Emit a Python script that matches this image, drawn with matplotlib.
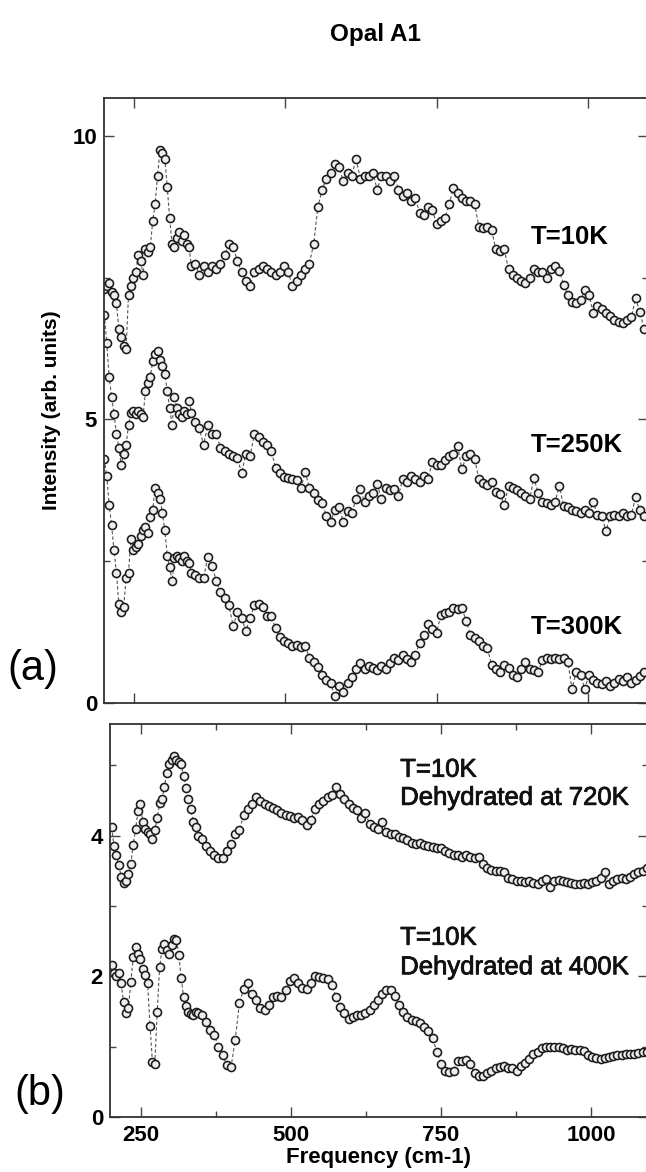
import matplotlib
matplotlib.use("Agg")
import matplotlib.pyplot as plt
import matplotlib.patheffects as pe
import numpy as np

plt.rcParams["font.family"] = ["Liberation Sans", "DejaVu Sans"]

# frequency grid (cm-1): finer steps below 350
freq = np.concatenate([np.arange(201, 349, 4), np.arange(351, 1096, 7)])

# panel (a)
t10k = [
    7.3, 7.35, 7.4, 7.25, 7.2, 7.05, 6.6, 6.45, 6.3, 6.25,
    7.2, 7.35, 7.5, 7.6, 7.9, 7.8, 7.55, 8.0, 7.95, 8.05,
    8.5, 8.8, 9.3, 9.75, 9.7, 9.6, 9.1, 8.55, 8.1, 8.05,
    8.2, 8.3, 8.15, 8.25, 8.1, 8.05, 7.7,
    7.75, 7.55, 7.7, 7.6, 7.7, 7.65, 7.75, 7.9, 8.1, 8.05,
    7.8, 7.6, 7.45, 7.35, 7.6, 7.65, 7.7, 7.65, 7.6, 7.55,
    7.6, 7.7, 7.6, 7.35, 7.45, 7.55, 7.65, 7.75, 8.1, 8.75,
    9.05, 9.25, 9.35, 9.5, 9.45, 9.2, 9.35, 9.3, 9.6, 9.25,
    9.3, 9.3, 9.35, 9.05, 9.3, 9.3, 9.2, 9.3, 9.05, 8.95,
    9.0, 8.85, 8.9, 8.65, 8.6, 8.75, 8.7, 8.45, 8.5, 8.55,
    8.8, 9.08, 9.0, 8.9, 8.85, 8.85, 8.8, 8.4, 8.38, 8.4,
    8.35, 8.0, 7.98, 8.0, 7.65, 7.55, 7.5, 7.45, 7.4, 7.5,
    7.65, 7.6, 7.6, 7.5, 7.65, 7.7, 7.62, 7.38, 7.2, 7.07,
    7.05, 7.1, 7.28, 7.2, 6.88, 7.0, 6.95, 6.88, 6.82, 6.75,
    6.72, 6.7, 6.75, 6.8, 7.14, 6.9, 6.6,
]
t250k = [
    6.85, 6.35, 5.75, 5.4, 5.1, 4.75, 4.5, 4.2, 4.4, 4.55,
    4.9, 5.12, 5.15, 5.1, 5.15, 5.1, 5.05, 5.5, 5.65, 5.75,
    6.03, 6.15, 6.2, 6.05, 5.95, 5.8, 5.5, 5.2, 4.9, 5.4,
    5.2, 5.1, 5.05, 5.15, 5.1, 5.33, 5.12,
    4.95, 4.85, 4.55, 4.9, 4.75, 4.75, 4.5, 4.45, 4.4, 4.35,
    4.32, 4.05, 4.4, 4.35, 4.75, 4.7, 4.6, 4.55, 4.45, 4.15,
    4.05, 3.99, 3.97, 3.95, 3.93, 3.79, 4.07, 3.8, 3.7, 3.58,
    3.53, 3.3, 3.2, 3.4, 3.45, 3.2, 3.38, 3.35, 3.6, 3.78,
    3.55, 3.65, 3.7, 3.86, 3.6, 3.8, 3.75, 3.78, 3.65, 3.95,
    3.9, 4.0, 3.95, 3.9, 4.0, 3.95, 4.25, 4.2, 4.2, 4.28,
    4.35, 4.4, 4.53, 4.12, 4.35, 4.4, 4.3, 3.95, 3.88, 3.85,
    3.9, 3.72, 3.68, 3.49, 3.83, 3.8, 3.75, 3.7, 3.65, 3.6,
    3.97, 3.7, 3.55, 3.52, 3.5, 3.55, 3.83, 3.48, 3.45, 3.4,
    3.38, 3.35, 3.4, 3.35, 3.55, 3.32, 3.3, 3.03, 3.3, 3.32,
    3.3, 3.35, 3.3, 3.32, 3.63, 3.4, 3.3,
]
t300k = [
    4.3, 4.0, 3.5, 3.14, 2.7, 2.3, 1.75, 1.6, 1.7, 2.2,
    2.3, 2.9, 2.7, 2.75, 2.8, 2.95, 3.05, 3.1, 3.0, 3.28,
    3.4, 3.8, 3.7, 3.6, 3.35, 3.05, 2.6, 2.4, 2.15, 2.55,
    2.6, 2.55, 2.5, 2.6, 2.5, 2.47, 2.3,
    2.25, 2.2, 2.2, 2.58, 2.42, 2.15, 1.95, 1.85, 1.72, 1.36,
    1.6, 1.5, 1.27, 1.5, 1.73, 1.75, 1.7, 1.53, 1.53, 1.32,
    1.16, 1.1, 1.05, 1.0, 1.02, 0.99, 1.0, 0.8, 0.72, 0.64,
    0.5, 0.4, 0.35, 0.12, 0.3, 0.2, 0.35, 0.45, 0.6, 0.7,
    0.6, 0.65, 0.62, 0.58, 0.65, 0.6, 0.7, 0.79, 0.75, 0.85,
    0.78, 0.72, 0.85, 1.06, 1.2, 1.4, 1.3, 1.23, 1.55, 1.59,
    1.6, 1.67, 1.65, 1.67, 1.45, 1.2, 1.15, 1.1, 1.0, 0.97,
    0.67, 0.6, 0.55, 0.67, 0.62, 0.5, 0.45, 0.6, 0.73, 0.6,
    0.58, 0.55, 0.75, 0.8, 0.78, 0.8, 0.78, 0.8, 0.72, 0.25,
    0.55, 0.5, 0.25, 0.5, 0.4, 0.35, 0.33, 0.38, 0.3, 0.35,
    0.42, 0.38, 0.45, 0.35, 0.4, 0.48, 0.55,
]

# panel (b), T=10K after dehydration
dehyd_720k = [
    4.12, 3.85, 3.72, 3.58, 3.42, 3.33, 3.35, 3.46, 3.6, 3.87,
    4.1, 4.35, 4.45, 4.2, 4.1, 4.05, 4.02, 3.96, 4.08, 4.25,
    4.46, 4.52, 4.7, 4.9, 5.02, 5.08, 5.14, 5.08, 5.05, 5.02,
    4.85, 4.68, 4.52, 4.38, 4.2, 4.12, 4.0,
    3.96, 3.85, 3.78, 3.72, 3.69, 3.68, 3.78, 3.88, 4.02, 4.08,
    4.3, 4.38, 4.45, 4.55, 4.5, 4.45, 4.42, 4.4, 4.36, 4.32,
    4.3, 4.28, 4.25, 4.27, 4.22, 4.15, 4.22, 4.38, 4.45, 4.5,
    4.55, 4.58, 4.7, 4.6, 4.53, 4.45, 4.4, 4.37, 4.25, 4.32,
    4.17, 4.12, 4.1, 4.2, 4.06, 4.03, 4.02, 3.98, 3.97, 3.94,
    3.9, 3.88, 3.9, 3.87, 3.85, 3.84, 3.82, 3.82, 3.78, 3.75,
    3.73, 3.72, 3.7, 3.72, 3.7, 3.68, 3.7, 3.6, 3.54, 3.52,
    3.5, 3.5, 3.48, 3.4, 3.38, 3.36, 3.35, 3.34, 3.36, 3.33,
    3.32, 3.35, 3.39, 3.27, 3.36, 3.37, 3.35, 3.34, 3.33, 3.32,
    3.32, 3.33, 3.32, 3.34, 3.36, 3.4, 3.48, 3.32, 3.36, 3.38,
    3.4, 3.38, 3.42, 3.45, 3.48, 3.5, 3.54,
]
dehyd_400k = [
    2.16, 2.05, 2.0, 2.05, 1.9, 1.63, 1.48, 1.55, 1.92, 2.27,
    2.42, 2.32, 2.25, 2.1, 2.02, 1.9, 1.3, 0.78, 0.76, 1.5,
    2.13, 2.39, 2.46, 2.37, 2.32, 2.44, 2.53, 2.52, 2.3, 1.98,
    1.7, 1.58, 1.5, 1.47, 1.45, 1.5, 1.48,
    1.45, 1.35, 1.24, 1.17, 1.0, 0.88, 0.74, 0.71, 1.1, 1.62,
    1.82, 1.9, 1.75, 1.66, 1.55, 1.52, 1.6, 1.71, 1.72, 1.71,
    1.8, 1.93, 1.98, 1.9, 1.83, 1.82, 1.9, 2.0, 1.99, 1.98,
    1.96, 1.88, 1.71, 1.57, 1.48, 1.4, 1.42, 1.45, 1.45, 1.48,
    1.52, 1.6, 1.67, 1.75, 1.81, 1.8, 1.72, 1.6, 1.5, 1.42,
    1.38, 1.36, 1.33, 1.28, 1.22, 1.12, 0.93, 0.76, 0.65, 0.64,
    0.66, 0.79, 0.8, 0.81, 0.75, 0.62, 0.58, 0.58, 0.63, 0.66,
    0.7, 0.71, 0.72, 0.7, 0.7, 0.66, 0.72, 0.77, 0.83, 0.9,
    0.93, 0.98, 1.0, 1.0, 1.0, 0.99, 0.98, 0.96, 0.97, 0.96,
    0.95, 0.94, 0.88, 0.86, 0.84, 0.83, 0.84, 0.86, 0.87, 0.88,
    0.88, 0.89, 0.9, 0.9, 0.91, 0.92, 0.93,
]

W, H = 646, 1172
fig = plt.figure(figsize=(W / 100, H / 100), dpi=100)

# axes placed in pixel terms; right spine sits just outside the image
ax1 = fig.add_axes([104 / W, 1 - 703 / H, (648 - 104) / W, (703 - 98) / H])
ax2 = fig.add_axes([110 / W, 1 - 1117 / H, (648 - 110) / W, (1117 - 724) / H])

style = dict(
    linestyle="--",
    dashes=(3, 2),
    color="#555555",
    linewidth=0.8,
    marker="o",
    markersize=5.8,
    markerfacecolor="#eeeeee",
    markeredgecolor="#1a1a1a",
    markeredgewidth=1.15,
)

for y in (t10k, t250k, t300k):
    ax1.plot(freq, y, **style)
for y in (dehyd_720k, dehyd_400k):
    ax2.plot(freq, y, **style)

ax1.set_xlim(200.5, 1099.5)
ax1.set_ylim(0, 10.67)
ax2.set_xlim(198.3, 1095)
ax2.set_ylim(0, 5.59)

ax1.set_xticks([250, 500, 750, 1000])
ax1.set_yticks([0, 5, 10])
ax1.set_yticks([2.5, 7.5], minor=True)
ax2.set_xticks([250, 500, 750, 1000])
ax2.set_xticks([375, 625, 875], minor=True)
ax2.set_yticks([0, 2, 4])
ax2.set_yticks([1, 3, 5], minor=True)

for ax in (ax1, ax2):
    for sp in ax.spines.values():
        sp.set_linewidth(1.3)
        sp.set_color("#333333")
    ax.tick_params(which="both", direction="in", top=True, right=True,
                   color="#444444", width=1.0)
    ax.tick_params(which="major", length=7)
    ax.tick_params(which="minor", length=4)
    ax.tick_params(axis="y", pad=5, labelsize=16)
    ax.tick_params(axis="x", pad=6, labelsize=16)
    for lab in ax.get_xticklabels() + ax.get_yticklabels():
        lab.set_fontweight("bold")

ax1.tick_params(axis="x", labelbottom=False)

lab_kw = dict(fontsize=18.5, ha="left", va="center")
thick = [pe.withStroke(linewidth=0.6, foreground="#111111")]
ax1.text(905, 8.22, "T=10K", fontweight="bold", **lab_kw)
ax1.text(905, 4.55, "T=250K", fontweight="bold", **lab_kw)
ax1.text(905, 1.34, "T=300K", fontweight="bold", **lab_kw)
for x, y, s in [(682, 4.94, "T=10K"), (682, 4.54, "Dehydrated at 720K"),
                (682, 2.55, "T=10K"), (682, 2.13, "Dehydrated at 400K")]:
    ax2.text(x, y, s, color="#111111", path_effects=thick, **lab_kw)

fig.text(375 / W, 1 - 34 / H, "Opal A1", fontsize=17.5, fontweight="bold",
         ha="center", va="center")
fig.text(52 / W, 1 - 410 / H, "Intensity (arb. units)", fontsize=15,
         fontweight="bold", rotation=90, ha="center", va="center")
fig.text(378 / W, 1 - 1158 / H, "Frequency (cm-1)", fontsize=16,
         fontweight="bold", ha="center", va="center")
fig.text(33 / W, 1 - 669 / H, "(a)", fontsize=30, ha="center", va="center")
fig.text(40 / W, 1 - 1094 / H, "(b)", fontsize=30, ha="center", va="center")

fig.savefig("out.png", dpi=100)
